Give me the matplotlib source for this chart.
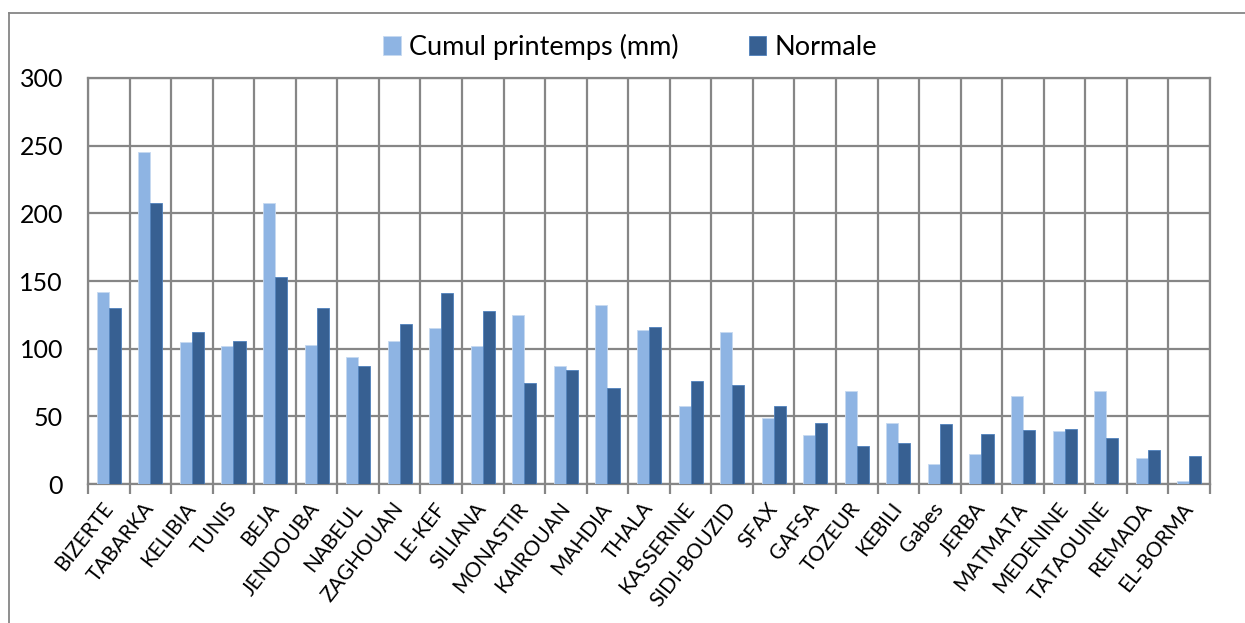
import numpy as np
import matplotlib
matplotlib.use("Agg")
from matplotlib import pyplot as plt
from matplotlib.lines import Line2D

stations = ["BIZERTE", "TABARKA", "KELIBIA", "TUNIS", "BEJA", "JENDOUBA", "NABEUL",
            "ZAGHOUAN", "LE-KEF", "SILIANA", "MONASTIR", "KAIROUAN", "MAHDIA", "THALA",
            "KASSERINE", "SIDI-BOUZID", "SFAX", "GAFSA", "TOZEUR", "KEBILI", "Gabes",
            "JERBA", "MATMATA", "MEDENINE", "TATAOUINE", "REMADA", "EL-BORMA"]
cumul = [142, 245, 105, 102, 208, 103, 94, 106, 115, 102, 125, 87, 132, 114,
         58, 112, 49, 36, 69, 45, 15, 22, 65, 39, 69, 19, 2]
normale = [130, 208, 112, 106, 153, 130, 87, 118, 141, 128, 75, 84, 71, 116,
           76, 73, 58, 45, 28, 30, 44, 37, 40, 41, 34, 25, 21]
yticks = [0, 50, 100, 150, 200, 250, 300]

plt.rcParams['font.family'] = ['Lato', 'DejaVu Sans']
light = "#8EB4E3"
dark = "#376092"
grid_c = "#868686"

fig = plt.figure(figsize=(12.45, 6.23), dpi=100)
ax = fig.add_axes([0.0707, 0.2231, 0.9012, 0.6517])

x = np.arange(len(stations))
w = 0.29
ax.bar(x - w/2, cumul, w, color=light, edgecolor="#C6D9F1", linewidth=0.6, zorder=3,
       label="Cumul printemps (mm)")
ax.bar(x + w/2, normale, w, color=dark, edgecolor="#4F81BD", linewidth=0.6, zorder=3,
       label="Normale")

ax.set_xlim(-0.5, len(stations) - 0.5)
ax.set_ylim(0, 300)
ax.set_yticks(yticks)
ax.set_yticklabels([str(v) for v in yticks], fontsize=18)
ax.tick_params(axis='y', length=0, pad=18)

ax.set_xticks(x)
ax.set_xticklabels(stations, fontsize=15)
ax.tick_params(axis='x', which='major', length=0, pad=15)
ax.set_xticks(np.arange(-0.5, len(stations)), minor=True)
ax.tick_params(axis='x', which='minor', length=7, width=1.6, color=grid_c, direction='out')
for lbl in ax.get_xticklabels():
    lbl.set_rotation(52)
    lbl.set_rotation_mode('anchor')
    lbl.set_ha('right')
    lbl.set_va('center')

ax.grid(axis='y', color=grid_c, linewidth=1.6, zorder=0)
ax.grid(axis='x', which='minor', color=grid_c, linewidth=1.6, zorder=0)
ax.set_axisbelow(True)
for s in ax.spines.values():
    s.set_color(grid_c)
    s.set_linewidth(1.6)

# outer chart frame
fx = 9 / 1245
fy = 1 - 13 / 623
fig.add_artist(Line2D([fx, fx], [0, fy], transform=fig.transFigure, color=grid_c, lw=1.3))
fig.add_artist(Line2D([fx, 1], [fy, fy], transform=fig.transFigure, color=grid_c, lw=1.3))

fig.legend(loc='center', bbox_to_anchor=(0.506, 0.9246), ncol=2, frameon=False,
           fontsize=19.5, handlelength=0.65, handleheight=0.65, handletextpad=0.3,
           columnspacing=2.6)

fig.savefig("out.png", dpi=100)
